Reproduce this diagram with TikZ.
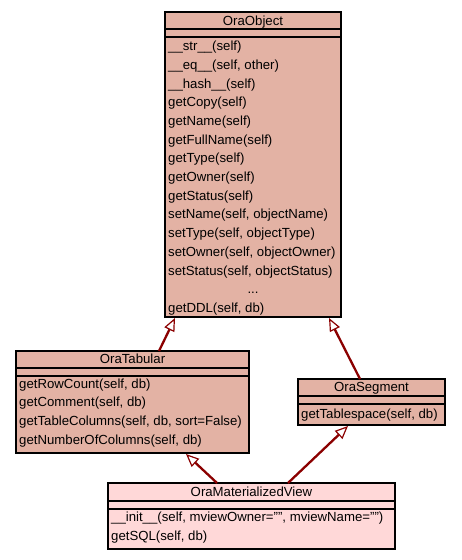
\documentclass[tikz,border=0pt]{standalone}
\usepackage{fontspec}
\setmainfont{Liberation Sans}
\usetikzlibrary{arrows.meta}
\definecolor{clsfill}{RGB}{227,178,164}
\definecolor{mvfill}{RGB}{255,216,216}
\definecolor{inh}{RGB}{139,0,0}
\begin{document}
\begin{tikzpicture}[x=1pt,y=-1pt,
  box/.style={draw=black, line width=1.2pt, inner sep=0pt, outer sep=0pt, anchor=north west},
  sep/.style={draw=black, line width=1.2pt},
  ttl/.style={anchor=base, inner sep=0pt, font=\fontsize{13.2}{15}\selectfont},
  mth/.style={anchor=base west, inner sep=0pt, font=\fontsize{13.2}{15}\selectfont},
  gen/.style={draw=inh, line width=2.3pt, -{Triangle[open, length=13pt, width=11pt, fill=white, line width=1.2pt]}}]
\useasboundingbox (0,0) rectangle (461,560);
% OraObject
\node[box, fill=clsfill, minimum width=176pt, minimum height=305pt] (obj) at (165,12) {};
\draw[sep] (165,29) -- (341,29);
\draw[sep] (165,37) -- (341,37);
\node[ttl] (objt) at (253,25) {OraObject};
\foreach \t [count=\i from 0] in {{\_\_str\_\_(self)},{\_\_eq\_\_(self, other)},{\_\_hash\_\_(self)},{getCopy(self)},{getName(self)},{getFullName(self)},{getType(self)},{getOwner(self)},{getStatus(self)},{setName(self, objectName)},{setType(self, objectType)},{setOwner(self, objectOwner)},{setStatus(self, objectStatus)},{},{getDDL(self, db)}}
  \node[mth] (objm\i) at (168,50.6+18.7*\i) {\t};
\node[ttl] (objdots) at (253,293.7) {...};
% OraTabular
\node[box, fill=clsfill, minimum width=233pt, minimum height=102pt] (tab) at (16,351) {};
\draw[sep] (16,368) -- (249,368);
\draw[sep] (16,376) -- (249,376);
\node[ttl] (tabt) at (132.5,363) {OraTabular};
\foreach \t [count=\i from 0] in {{getRowCount(self, db)},{getComment(self, db)},{getTableColumns(self, db, sort=False)},{getNumberOfColumns(self, db)}}
  \node[mth] (tabm\i) at (19,388+18.7*\i) {\t};
% OraSegment
\node[box, fill=clsfill, minimum width=147pt, minimum height=46pt] (seg) at (298,379) {};
\draw[sep] (298,396) -- (445,396);
\draw[sep] (298,404) -- (445,404);
\node[ttl] (segt) at (371.5,391) {OraSegment};
\node[mth] (segm0) at (301,418) {getTablespace(self, db)};
% OraMaterializedView
\node[box, fill=mvfill, minimum width=287pt, minimum height=66pt] (mv) at (108,483) {};
\draw[sep] (108,501) -- (395,501);
\draw[sep] (108,509) -- (395,509);
\node[ttl] (mvt) at (251.5,496) {OraMaterializedView};
\node[mth] (mvm0) at (111,521.5) {\_\_init\_\_(self, mviewOwner="", mviewName="")};
\node[mth] (mvm1) at (111,540.2) {getSQL(self, db)};
% generalisations
\coordinate (tabA) at (159,351);
\coordinate (objA) at (175,318);
\coordinate (segA) at (360,379);
\coordinate (objB) at (329,318);
\coordinate (mvA) at (217,483);
\coordinate (tabB) at (186,454);
\coordinate (mvB) at (288,483);
\coordinate (segB) at (348,426);
\draw[gen] (tabA) -- (objA);
\draw[gen] (segA) -- (objB);
\draw[gen] (mvA) -- (tabB);
\draw[gen] (mvB) -- (segB);
\end{tikzpicture}
\end{document}
